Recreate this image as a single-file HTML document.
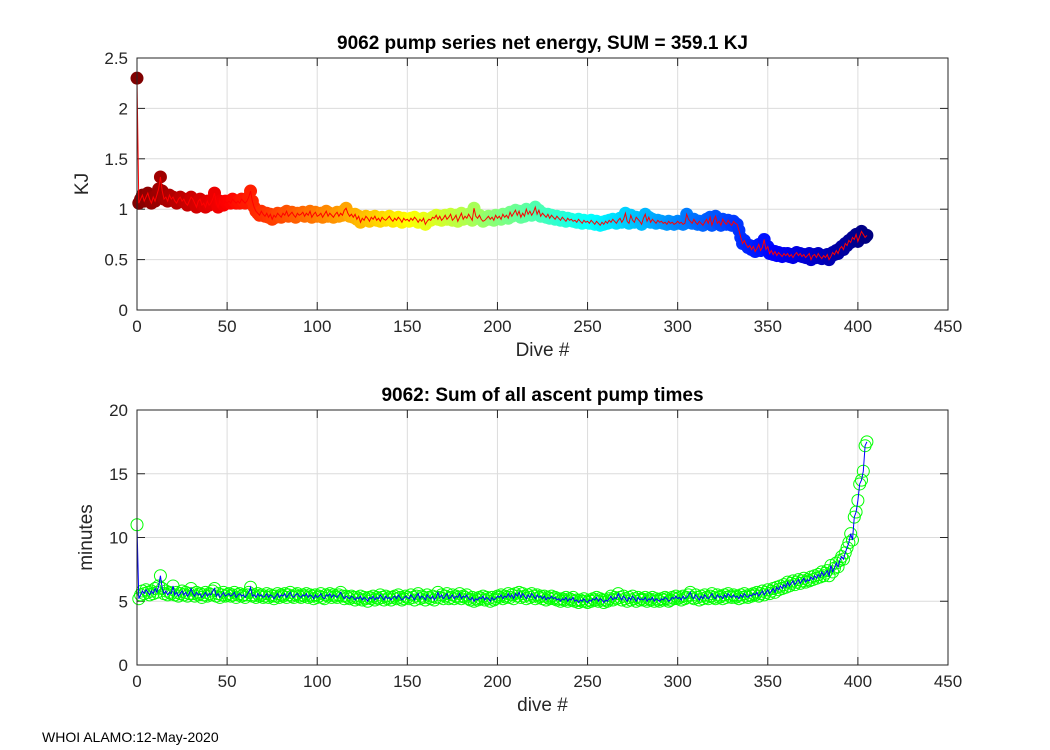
<!DOCTYPE html>
<html><head><meta charset="utf-8"><style>
body{margin:0;background:#fff;}
svg{display:block;font-family:"Liberation Sans",Helvetica,Arial,sans-serif;}
</style></head><body>
<svg id="fig" width="1050" height="750" viewBox="0 0 1050 750">
<rect x="0" y="0" width="1050" height="750" fill="#fff"/>
<g id="ax1"></g>
<g id="ax2"></g>
<text x="42" y="742" font-size="14">WHOI ALAMO:12-May-2020</text>
</svg>
<script>
const energy = [2.30,
1.06,1.10,1.14,1.08,1.12,1.16,1.10,1.06,1.12,1.08,
1.14,1.20,1.32,1.18,1.10,1.12,1.08,1.14,1.10,1.12,
1.08,1.06,1.10,1.12,1.08,1.10,1.06,1.04,1.08,1.12,
1.10,1.06,1.02,1.08,1.10,1.04,1.06,1.02,1.08,1.04,
1.06,1.10,1.16,1.06,1.02,1.08,1.06,1.04,1.08,1.06,
1.08,1.06,1.10,1.08,1.06,1.08,1.06,1.10,1.08,1.06,
1.08,1.12,1.18,1.08,1.02,0.98,0.96,0.94,0.98,0.95,
0.93,0.96,0.92,0.95,0.90,0.94,0.92,0.96,0.94,0.92,
0.96,0.94,0.98,0.93,0.95,0.97,0.94,0.92,0.96,0.94,
0.95,0.97,0.93,0.96,0.94,0.98,0.92,0.95,0.97,0.93,
0.94,0.96,0.92,0.95,0.98,0.93,0.96,0.94,0.92,0.95,
0.97,0.93,0.96,0.94,0.99,1.01,0.96,0.93,0.95,0.92,
0.95,0.90,0.93,0.87,0.91,0.89,0.93,0.91,0.88,0.92,
0.90,0.93,0.89,0.91,0.88,0.92,0.90,0.89,0.91,0.93,
0.90,0.88,0.91,0.89,0.92,0.90,0.87,0.91,0.89,0.90,
0.88,0.91,0.89,0.92,0.90,0.87,0.90,0.88,0.91,0.85,
0.88,0.90,0.89,0.92,0.91,0.94,0.90,0.93,0.89,0.91,
0.94,0.90,0.92,0.95,0.89,0.91,0.94,0.88,0.92,0.96,
0.90,0.93,0.91,0.95,0.92,0.89,1.01,0.93,0.91,0.94,
0.90,0.88,0.89,0.91,0.93,0.90,0.92,0.89,0.94,0.91,
0.93,0.90,0.95,0.92,0.94,0.91,0.97,0.93,0.96,0.99,
0.94,0.98,0.92,0.96,0.93,1.00,0.95,0.98,0.94,0.97,
1.02,0.95,0.99,0.93,0.96,0.94,0.92,0.95,0.91,0.94,
0.92,0.90,0.93,0.91,0.89,0.92,0.90,0.88,0.91,0.89,
0.90,0.88,0.89,0.87,0.90,0.88,0.86,0.89,0.87,0.88,
0.86,0.89,0.87,0.85,0.88,0.86,0.84,0.87,0.85,0.88,
0.86,0.89,0.87,0.90,0.88,0.86,0.89,0.91,0.87,0.90,
0.96,0.88,0.86,0.94,0.89,0.87,0.92,0.90,0.88,0.85,
0.91,0.95,0.88,0.92,0.87,0.90,0.88,0.86,0.89,0.87,
0.88,0.86,0.87,0.85,0.88,0.86,0.87,0.85,0.86,0.88,
0.86,0.87,0.85,0.86,0.95,0.90,0.88,0.86,0.90,0.87,
0.85,0.88,0.86,0.84,0.87,0.90,0.86,0.92,0.84,0.89,
0.93,0.86,0.88,0.84,0.90,0.87,0.85,0.89,0.86,0.84,
0.88,0.86,0.85,0.79,0.72,0.66,0.69,0.65,0.62,0.64,
0.60,0.63,0.58,0.61,0.65,0.59,0.62,0.70,0.60,0.63,
0.56,0.59,0.55,0.58,0.54,0.57,0.55,0.53,0.56,0.54,
0.56,0.53,0.55,0.52,0.55,0.57,0.54,0.56,0.53,0.55,
0.52,0.54,0.56,0.50,0.54,0.55,0.52,0.56,0.53,0.51,
0.54,0.52,0.55,0.50,0.53,0.57,0.55,0.59,0.56,0.61,
0.63,0.60,0.66,0.64,0.69,0.67,0.72,0.70,0.75,0.68,
0.73,0.78,0.75,0.72,0.74];
const minutes = [11.0,
5.2,5.5,5.8,5.6,5.9,5.7,5.5,5.8,5.6,6.0,
5.7,6.2,7.0,6.0,5.6,5.8,5.5,5.7,5.6,6.2,
5.5,5.7,5.4,5.6,5.8,5.5,5.7,5.4,5.6,6.0,
5.6,5.4,5.7,5.5,5.6,5.3,5.5,5.7,5.4,5.6,
5.5,5.8,6.0,5.4,5.6,5.3,5.5,5.7,5.4,5.5,
5.6,5.4,5.5,5.7,5.3,5.5,5.6,5.4,5.5,5.3,
5.5,5.7,6.1,5.4,5.5,5.3,5.6,5.4,5.5,5.3,
5.4,5.6,5.3,5.5,5.4,5.2,5.4,5.6,5.3,5.5,
5.4,5.6,5.3,5.5,5.7,5.4,5.3,5.5,5.6,5.4,
5.3,5.5,5.4,5.6,5.3,5.5,5.4,5.2,5.5,5.3,
5.4,5.6,5.3,5.2,5.5,5.4,5.6,5.3,5.5,5.4,
5.3,5.5,5.7,5.4,5.2,5.4,5.3,5.2,5.4,5.3,
5.1,5.3,5.2,5.4,5.1,5.3,5.2,5.0,5.3,5.2,
5.4,5.1,5.3,5.2,5.5,5.3,5.1,5.4,5.2,5.3,
5.1,5.3,5.4,5.2,5.5,5.3,5.1,5.2,5.4,5.3,
5.2,5.5,5.3,5.1,5.4,5.6,5.2,5.4,5.3,5.1,
5.5,5.3,5.2,5.4,5.1,5.3,5.7,5.3,5.5,5.2,
5.4,5.6,5.2,5.3,5.5,5.2,5.4,5.3,5.6,5.2,
5.4,5.3,5.5,5.2,5.1,5.3,5.0,5.2,5.1,5.3,
5.2,5.4,5.1,5.3,5.2,5.0,5.3,5.1,5.2,5.4,
5.3,5.5,5.2,5.4,5.3,5.6,5.3,5.5,5.2,5.6,
5.4,5.7,5.3,5.6,5.4,5.2,5.5,5.3,5.6,5.4,
5.2,5.5,5.3,5.4,5.2,5.4,5.1,5.3,5.2,5.4,
5.2,5.3,5.1,5.2,5.0,5.2,5.1,5.3,5.0,5.2,
5.1,5.3,5.0,5.1,4.9,5.1,5.0,5.2,5.0,4.9,
5.1,5.0,5.2,5.1,5.3,5.0,5.2,5.1,4.9,5.1,
5.0,5.2,5.4,5.1,5.3,5.2,5.6,5.3,5.1,5.4,
5.2,5.0,5.3,5.1,5.4,5.2,5.0,5.3,5.1,5.2,
5.1,5.3,5.0,5.2,5.1,5.3,5.0,5.2,5.1,5.0,
5.2,5.1,5.3,5.2,5.0,5.1,5.3,5.2,5.4,5.2,
5.3,5.1,5.4,5.2,5.3,5.5,5.7,5.3,5.2,5.5,
5.3,5.1,5.4,5.2,5.5,5.3,5.2,5.4,5.6,5.3,
5.2,5.5,5.3,5.4,5.2,5.5,5.3,5.6,5.4,5.3,
5.5,
5.3,5.4,5.2,5.5,5.3,5.6,5.4,5.3,5.5,5.4,
5.6,5.5,5.7,5.4,5.6,5.8,5.5,5.7,5.9,5.6,
5.8,6.0,5.7,6.1,5.9,6.2,6.0,6.3,6.1,6.5,
6.2,6.4,6.6,6.3,6.5,6.7,6.4,6.6,6.8,6.5,
6.7,6.6,6.9,6.7,7.0,6.8,7.1,6.9,7.3,7.0,
7.2,7.4,7.0,7.8,7.3,7.6,8.0,7.7,8.2,8.5,
8.3,8.8,9.2,9.6,10.3,9.8,11.6,12.0,12.9,14.2,
14.5,15.2,17.2,17.5];
const xTicks=[0,50,100,150,200,250,300,350,400,450];
const y1Ticks=[0,0.5,1,1.5,2,2.5];
const y1Labels=["0","0.5","1","1.5","2","2.5"];
const y2Ticks=[0,5,10,15,20];
const NS="http://www.w3.org/2000/svg";
function mk(tag,attrs,parent){const e=document.createElementNS(NS,tag);for(const k in attrs)e.setAttribute(k,attrs[k]);parent.appendChild(e);return e;}
const L=137,R=948;
function xs(v){return L+(v/450)*(R-L);}
function jet(t){
  function c(x){return Math.max(0,Math.min(1,x));}
  const r=c(1.5-Math.abs(4*t-3)),g=c(1.5-Math.abs(4*t-2)),b=c(1.5-Math.abs(4*t-1));
  return `rgb(${Math.round(r*255)},${Math.round(g*255)},${Math.round(b*255)})`;
}
function drawAxes(g,top,bot,ymax,yT,yL,title,xlab,ylab,ylabX,pfx){
  const ys=v=>bot-(v/ymax)*(bot-top);
  const bg=mk('rect',{x:L,y:top,width:R-L,height:bot-top,fill:'#fff'},g);
  
  
  xTicks.forEach(t=>{
    const gl=mk('line',{x1:xs(t),x2:xs(t),y1:top,y2:bot,stroke:'#dcdcdc','stroke-width':1},g);
    
    
    mk('line',{x1:xs(t),x2:xs(t),y1:bot,y2:bot-8,stroke:'#262626'},g);
    mk('line',{x1:xs(t),x2:xs(t),y1:top,y2:top+8,stroke:'#262626'},g);
    const tx=mk('text',{x:xs(t),y:bot+22,'font-size':17,'text-anchor':'middle',fill:'#262626'},g);
    tx.textContent=t;
    
    
  });
  yT.forEach((t,i)=>{
    const gl=mk('line',{x1:L,x2:R,y1:ys(t),y2:ys(t),stroke:'#dcdcdc','stroke-width':1},g);
    
    
    mk('line',{x1:L,x2:L+8,y1:ys(t),y2:ys(t),stroke:'#262626'},g);
    mk('line',{x1:R,x2:R-8,y1:ys(t),y2:ys(t),stroke:'#262626'},g);
    const tx=mk('text',{x:L-9,y:ys(t)+6,'font-size':17,'text-anchor':'end',fill:'#262626'},g);
    tx.textContent=yL?yL[i]:t;
    
    
  });
  const tt=mk('text',{x:(L+R)/2,y:top-9,'font-size':19,'font-weight':'bold','text-anchor':'middle',fill:'#000'},g);
  tt.textContent=title;
  
  
  const xl=mk('text',{x:(L+R)/2,y:bot+46,'font-size':19,'text-anchor':'middle',fill:'#262626'},g);
  xl.textContent=xlab;
  
  
  const yl=mk('text',{x:ylabX,y:(top+bot)/2,'font-size':19,'text-anchor':'middle',fill:'#262626',transform:`rotate(-90 ${ylabX} ${(top+bot)/2})`},g);
  yl.textContent=ylab;
  
  
  return ys;
}
function frame(g,top,bot,pfx){
  const f=mk('rect',{x:L,y:top,width:R-L,height:bot-top,fill:'none',stroke:'#262626','stroke-width':1},g);
  
  
}
const g1=document.getElementById('ax1');
const ys1=drawAxes(g1,58,310,2.5,y1Ticks,y1Labels,'9062 pump series net energy, SUM = 359.1 KJ','Dive #','KJ',88,'energy');
const n1=energy.length;
energy.forEach((v,i)=>{
  const c=mk('circle',{cx:xs(i),cy:ys1(v),r:6.5,fill:jet(1-i/(n1-1))},g1);
  
  
});
const p1=mk('polyline',{points:energy.map((v,i)=>xs(i)+','+ys1(v)).join(' '),fill:'none',stroke:'#ff0000','stroke-width':1},g1);


frame(g1,58,310,'energy');
const g2=document.getElementById('ax2');
const ys2=drawAxes(g2,410,665,20,y2Ticks,null,'9062: Sum of all ascent pump times','dive #','minutes',92,'pump');
minutes.forEach((v,i)=>{
  const c=mk('circle',{cx:xs(i),cy:ys2(v),r:6,fill:'none',stroke:'#00ff00','stroke-width':1},g2);
  
  
});
const p2=mk('polyline',{points:minutes.map((v,i)=>xs(i)+','+ys2(v)).join(' '),fill:'none',stroke:'#0000ff','stroke-width':1},g2);


frame(g2,410,665,'pump');
</script>
</body></html>
